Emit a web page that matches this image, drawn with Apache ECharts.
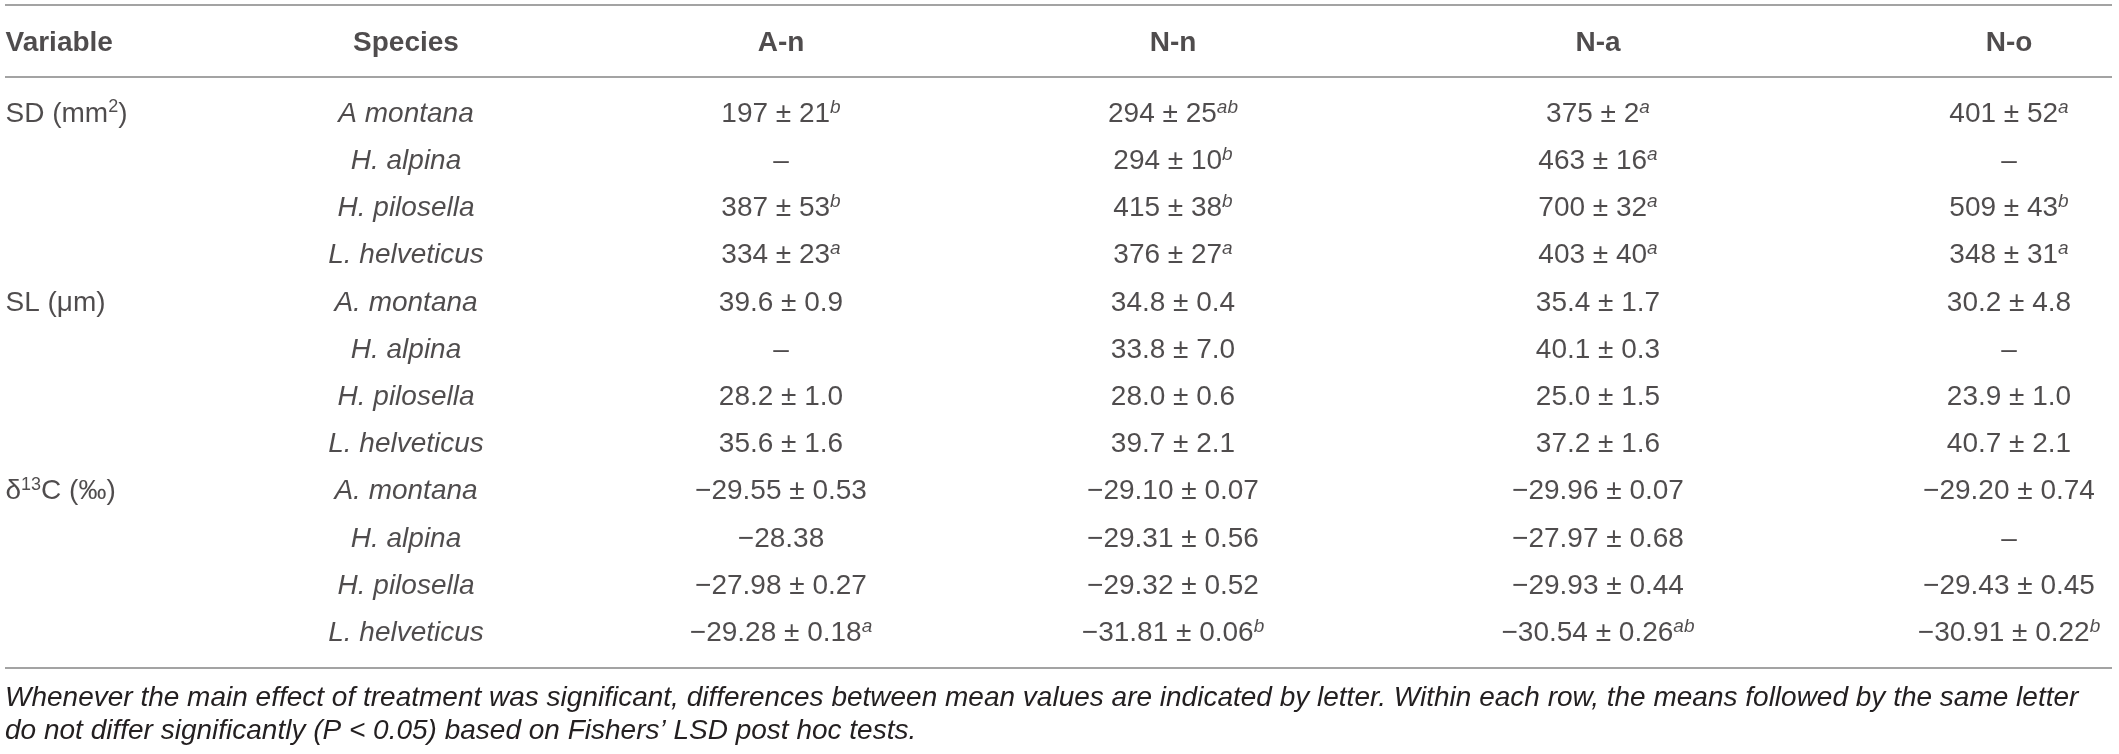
<!DOCTYPE html>
<html>
<head>
<meta charset="utf-8" />
<title>Table</title>
<script src="https://cdn.jsdelivr.net/npm/echarts@6/dist/echarts.min.js"></script>
<style>
html,body{margin:0;padding:0;background:#fff;}
#main{width:2119px;height:754px;}
</style>
</head>
<body>
<div id="main"></div>
<script>
var headers = ['Variable', 'Species', 'A-n', 'N-n', 'N-a', 'N-o'];
var variables = ['SD (mm^2)', 'SL (\u03bcm)', '\u03b4^13C (\u2030)'];
var species = [
  'A montana', 'H. alpina', 'H. pilosella', 'L. helveticus',
  'A. montana', 'H. alpina', 'H. pilosella', 'L. helveticus',
  'A. montana', 'H. alpina', 'H. pilosella', 'L. helveticus'
];
var decimals = [0, 1, 2];

// rows = species, columns = A-n, N-n, N-a, N-o
var sdMean = [[197, 294, 375, 401], [null, 294, 463, null], [387, 415, 700, 509], [334, 376, 403, 348]];
var sdErr = [[21, 25, 2, 52], [null, 10, 16, null], [53, 38, 32, 43], [23, 27, 40, 31]];
var sdLetter = [['b', 'ab', 'a', 'a'], [null, 'b', 'a', null], ['b', 'b', 'a', 'b'], ['a', 'a', 'a', 'a']];

var slMean = [[39.6, 34.8, 35.4, 30.2], [null, 33.8, 40.1, null], [28.2, 28.0, 25.0, 23.9], [35.6, 39.7, 37.2, 40.7]];
var slErr = [[0.9, 0.4, 1.7, 4.8], [null, 7.0, 0.3, null], [1.0, 0.6, 1.5, 1.0], [1.6, 2.1, 1.6, 2.1]];
var slLetter = [[null, null, null, null], [null, null, null, null], [null, null, null, null], [null, null, null, null]];

var dMean = [[-29.55, -29.10, -29.96, -29.20], [-28.38, -29.31, -27.97, null], [-27.98, -29.32, -29.93, -29.43], [-29.28, -31.81, -30.54, -30.91]];
var dErr = [[0.53, 0.07, 0.07, 0.74], [null, 0.56, 0.68, null], [0.27, 0.52, 0.44, 0.45], [0.18, 0.06, 0.26, 0.22]];
var dLetter = [[null, null, null, null], [null, null, null, null], [null, null, null, null], ['a', 'b', 'ab', 'b']];

var footnote = [
  'Whenever the main effect of treatment was significant, differences between mean values are indicated by letter. Within each row, the means followed by the same letter',
  'do not differ significantly (P < 0.05) based on Fishers\u2019 LSD post hoc tests.'
];

// ---- layout ----
var W = 2119, H = 754;
var colX = [5, 406, 781, 1173, 1598, 2009];
var headerY = 43, rowTop = 114, rowStep = 47.2;
var ruleY = [5, 77, 668];
var ruleX = [5, 2112];
var footY = [698, 731];
var FONT = "'Liberation Sans', Arial, Helvetica, sans-serif";
var INK = '#231f20';
var BODY = 28;

function rowY(i) { return rowTop + i * rowStep; }

function num(v, d) {
  return v.toFixed(d).replace('-', '\u2212');
}
function sup(s) {
  // "a^13b" -> rich superscript
  return s.replace(/\^(\d+)/g, '{sp|$1}');
}
function cellText(m, e, l, d) {
  if (m === null) return '\u2013';
  var t = num(m, d);
  if (e !== null) t += ' \u00b1 ' + num(e, d);
  if (l) t += '{sl|' + l + '}';
  return t;
}

var groups = [[sdMean, sdErr, sdLetter], [slMean, slErr, slLetter], [dMean, dErr, dLetter]];

var headerData = [], varData = [], spData = [], valData = [];
headers.forEach(function (h, c) { headerData.push({ value: [colX[c], headerY], name: h }); });
variables.forEach(function (v, g) { varData.push({ value: [colX[0], rowY(g * 4)], name: sup(v) }); });
species.forEach(function (s, r) { spData.push({ value: [colX[1], rowY(r)], name: s }); });
groups.forEach(function (grp, g) {
  for (var s = 0; s < 4; s++) {
    for (var c = 0; c < 4; c++) {
      valData.push({
        value: [colX[c + 2], rowY(g * 4 + s)],
        name: cellText(grp[0][s][c], grp[1][s][c], grp[2][s][c], decimals[g])
      });
    }
  }
});

var rich = {
  sp: { fontSize: 18, fontFamily: FONT, color: INK, verticalAlign: 'top', lineHeight: 16 },
  sl: { fontSize: 19, fontFamily: FONT, fontStyle: 'italic', color: INK, verticalAlign: 'top', lineHeight: 16 }
};

function textSeries(data, opts) {
  return {
    type: 'scatter',
    data: data,
    symbolSize: 1,
    silent: true,
    itemStyle: { color: 'rgba(0,0,0,0)' },
    label: Object.assign({
      show: true,
      formatter: function (p) { return p.name; },
      fontFamily: FONT,
      fontSize: BODY,
      lineHeight: 32,
      color: INK,
      rich: rich
    }, opts)
  };
}

var chart = echarts.init(document.getElementById('main'), null, { renderer: 'canvas' });
chart.setOption({
  animation: false,
  backgroundColor: '#fff',
  title: {
    text: footnote.join('\n'),
    left: colX[0] - 5,
    top: footY[0] - 16 - 5,
    textStyle: { fontFamily: FONT, fontSize: BODY, fontStyle: 'italic', fontWeight: 'normal', color: INK, lineHeight: footY[1] - footY[0] }
  },
  grid: { left: 0, right: 0, top: 0, bottom: 0 },
  xAxis: { type: 'value', min: 0, max: W, show: false },
  yAxis: { type: 'value', min: 0, max: H, inverse: true, show: false },
  series: [
    // header row
    Object.assign(textSeries(headerData.slice(0, 1), { position: 'right', distance: 0, fontWeight: 'bold' }), {
      markLine: {
        silent: true,
        symbol: 'none',
        label: { show: false },
        lineStyle: { color: '#a3a3a3', width: 2, type: 'solid' },
        data: ruleY.map(function (y) { return [{ coord: [ruleX[0], y] }, { coord: [ruleX[1], y] }]; })
      }
    }),
    textSeries(headerData.slice(1), { position: 'inside', fontWeight: 'bold' }),
    // variable column
    textSeries(varData, { position: 'right', distance: 0 }),
    // species column
    textSeries(spData, { position: 'inside', fontStyle: 'italic' }),
    // values
    textSeries(valData, { position: 'inside' })
  ]
});
</script>
</body>
</html>
